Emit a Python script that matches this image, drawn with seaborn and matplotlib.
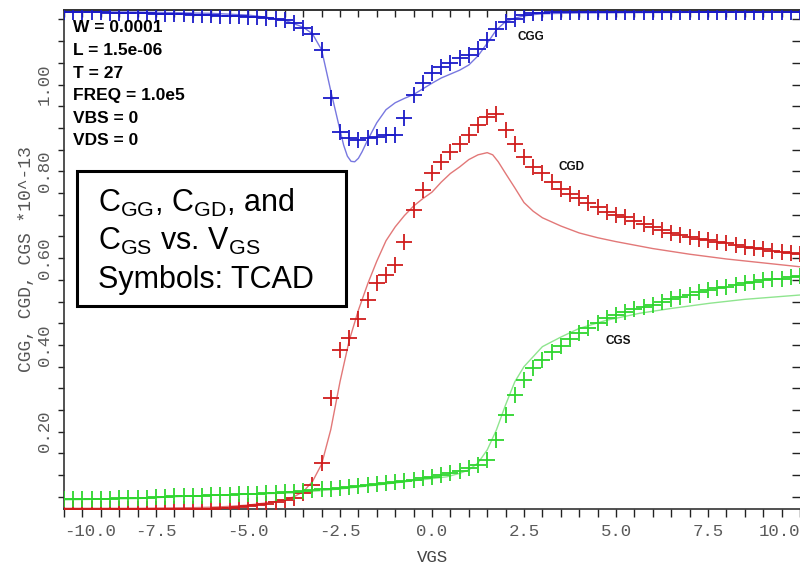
import matplotlib
matplotlib.use("Agg")
import matplotlib.pyplot as plt
import seaborn as sns
from matplotlib.patches import Rectangle
from matplotlib.ticker import MultipleLocator, FixedLocator

# ---------------- data ----------------
VGS_TCAD = [-10.0, -9.75, -9.5, -9.25, -9.0, -8.75, -8.5, -8.25, -8.0, -7.75,
            -7.5, -7.25, -7.0, -6.75, -6.5, -6.25, -6.0, -5.75, -5.5, -5.25,
            -5.0, -4.75, -4.5, -4.25, -4.0, -3.75, -3.5, -3.25, -3.0, -2.75,
            -2.5, -2.25, -2.0, -1.75, -1.5, -1.25, -1.0, -0.75, -0.5, -0.25,
            0.0, 0.25, 0.5, 0.75, 1.0, 1.25, 1.5, 1.75, 2.0, 2.25,
            2.5, 2.75, 3.0, 3.25, 3.5, 3.75, 4.0, 4.25, 4.5, 4.75,
            5.0, 5.25, 5.5, 5.75, 6.0, 6.25, 6.5, 6.75, 7.0, 7.25,
            7.5, 7.75, 8.0, 8.25, 8.5, 8.75, 9.0, 9.25, 9.5, 9.75, 10.0]

CGG_TCAD = [1.166, 1.166, 1.166, 1.166, 1.166, 1.165, 1.165, 1.165, 1.164, 1.164,
            1.163, 1.163, 1.162, 1.162, 1.161, 1.160, 1.160, 1.159, 1.158, 1.157,
            1.156, 1.155, 1.153, 1.150, 1.148, 1.141, 1.130, 1.116, 1.080, 0.968,
            0.891, 0.876, 0.872, 0.876, 0.880, 0.884, 0.884, 0.922, 0.976, 1.003,
            1.026, 1.041, 1.049, 1.060, 1.068, 1.082, 1.103, 1.129, 1.143, 1.152,
            1.160, 1.164, 1.165, 1.166, 1.166, 1.166, 1.166, 1.166, 1.166, 1.166,
            1.166, 1.166, 1.166, 1.166, 1.166, 1.166, 1.166, 1.166, 1.166, 1.166,
            1.166, 1.166, 1.166, 1.166, 1.166, 1.166, 1.166, 1.166, 1.166, 1.166, 1.166]

CGD_TCAD = [0.022, 0.022, 0.022, 0.022, 0.022, 0.022, 0.022, 0.022, 0.022, 0.022,
            0.022, 0.022, 0.022, 0.023, 0.023, 0.023, 0.023, 0.024, 0.025, 0.026,
            0.028, 0.030, 0.033, 0.038, 0.042, 0.047, 0.058, 0.077, 0.128, 0.277,
            0.388, 0.415, 0.459, 0.503, 0.542, 0.561, 0.584, 0.638, 0.711, 0.758,
            0.795, 0.822, 0.845, 0.864, 0.884, 0.907, 0.926, 0.932, 0.895, 0.864,
            0.832, 0.810, 0.795, 0.775, 0.760, 0.748, 0.738, 0.727, 0.717, 0.707,
            0.700, 0.694, 0.686, 0.678, 0.672, 0.665, 0.659, 0.653, 0.649, 0.645,
            0.642, 0.638, 0.634, 0.630, 0.626, 0.623, 0.620, 0.617, 0.615, 0.612, 0.610]

CGS_TCAD = [0.044, 0.044, 0.045, 0.045, 0.046, 0.046, 0.047, 0.047, 0.047, 0.048,
            0.049, 0.050, 0.051, 0.052, 0.053, 0.053, 0.054, 0.055, 0.055, 0.056,
            0.057, 0.057, 0.058, 0.059, 0.060, 0.061, 0.063, 0.065, 0.067, 0.069,
            0.070, 0.072, 0.075, 0.077, 0.080, 0.082, 0.084, 0.086, 0.089, 0.093,
            0.096, 0.100, 0.104, 0.110, 0.116, 0.124, 0.135, 0.181, 0.238, 0.285,
            0.319, 0.346, 0.365, 0.384, 0.398, 0.413, 0.428, 0.440, 0.451, 0.461,
            0.468, 0.475, 0.482, 0.487, 0.493, 0.499, 0.505, 0.511, 0.515, 0.521,
            0.527, 0.530, 0.534, 0.538, 0.542, 0.546, 0.550, 0.552, 0.553, 0.556, 0.558]

CGG_MODEL_X = [-10, -8, -6, -5, -4.5, -4, -3.5, -3.25, -3.0, -2.75,
               -2.5, -2.4, -2.3, -2.2, -2.1, -2.0, -1.9, -1.75, -1.5, -1.25,
               -1.0, -0.75, -0.5, -0.25, 0.0, 0.25, 0.5, 0.75, 1.0, 1.25,
               1.5, 1.75, 2.0, 2.25, 2.5, 2.75, 3.0, 4.0, 6.0, 10.0]
CGG_MODEL = [1.168, 1.167, 1.164, 1.160, 1.155, 1.148, 1.132, 1.117, 1.080, 0.985,
             0.895, 0.860, 0.835, 0.823, 0.822, 0.830, 0.845, 0.872, 0.912, 0.942,
             0.958, 0.968, 0.977, 0.990, 1.003, 1.015, 1.024, 1.033, 1.045, 1.066,
             1.095, 1.126, 1.145, 1.153, 1.158, 1.161, 1.163, 1.165, 1.166, 1.167]

CGD_MODEL_X = [-10, -8, -6.5, -6, -5.5, -5, -4.5, -4, -3.75, -3.5,
               -3.25, -3.0, -2.75, -2.5, -2.25, -2.0, -1.75, -1.5, -1.25, -1.0,
               -0.75, -0.5, -0.25, 0.0, 0.25, 0.5, 0.75, 1.0, 1.25, 1.5,
               1.65, 1.8, 2.0, 2.25, 2.5, 2.75, 3.0, 3.5, 4.0, 4.5,
               5.0, 5.5, 6.0, 7.0, 8.0, 9.0, 10.0]
CGD_MODEL = [0.0235, 0.0235, 0.025, 0.026, 0.028, 0.031, 0.036, 0.043, 0.050, 0.062,
             0.085, 0.125, 0.205, 0.315, 0.410, 0.480, 0.540, 0.593, 0.640, 0.672,
             0.698, 0.720, 0.737, 0.752, 0.775, 0.795, 0.810, 0.827, 0.838, 0.843,
             0.838, 0.822, 0.795, 0.762, 0.728, 0.708, 0.693, 0.674, 0.658, 0.647,
             0.638, 0.630, 0.622, 0.609, 0.598, 0.589, 0.580]

CGS_MODEL_X = [-10, -8, -6.5, -5, -3.75, -2.5, -1.5, -0.5, 0.4, 0.75,
               1.0, 1.25, 1.5, 1.75, 2.0, 2.25, 2.5, 2.75, 3.0, 3.5,
               4.0, 4.75, 5.65, 6.5, 7.55, 8.5, 10.0]
CGS_MODEL = [0.043, 0.046, 0.052, 0.056, 0.059, 0.068, 0.077, 0.087, 0.096, 0.104,
             0.112, 0.128, 0.158, 0.204, 0.262, 0.315, 0.350, 0.373, 0.396, 0.418,
             0.438, 0.457, 0.473, 0.484, 0.496, 0.505, 0.515]

X_TICKS = [-10.0, -7.5, -5.0, -2.5, 0.0, 2.5, 5.0, 7.5, 10.0]
X_TICK_LABELS = ["-10.0", "-7.5", "-5.0", "-2.5", "0.0", "2.5", "5.0", "7.5", "10.0"]
Y_TICKS = [0.20, 0.40, 0.60, 0.80, 1.00]
Y_TICK_LABELS = ["0.20", "0.40", "0.60", "0.80", "1.00"]

PARAMS = ["W = 0.0001", "L = 1.5e-06", "T = 27", "FREQ = 1.0e5", "VBS = 0", "VDS = 0"]

# ---------------- style ----------------
sns.set_theme(style="white")
plt.rcParams["font.family"] = ["Liberation Sans", "DejaVu Sans"]
plt.rcParams["axes.unicode_minus"] = False
plt.rcParams["mathtext.default"] = "regular"

W, H = 800, 567
fig = plt.figure(figsize=(8, 5.67), dpi=100)
fig.patch.set_facecolor("white")
ax = fig.add_axes([64 / W, 1 - 509 / H, 736 / W, 499 / H])
ax.set_facecolor("white")

series = [
    (CGG_MODEL_X, CGG_MODEL, CGG_TCAD, "#7878e0", "#1a1ac8"),
    (CGD_MODEL_X, CGD_MODEL, CGD_TCAD, "#e27878", "#d01c1c"),
    (CGS_MODEL_X, CGS_MODEL, CGS_TCAD, "#8fe58f", "#2ed62e"),
]
for mx, my, ty, lc, mc in series:
    sns.lineplot(x=mx, y=my, color=lc, lw=1.0, ax=ax, sort=False,
                 estimator=None, zorder=2)
    sns.scatterplot(x=VGS_TCAD, y=ty, marker="+", s=135, linewidth=1.3,
                    color=mc, ax=ax, zorder=3)

ax.set_xlim(-10, 10)
ax.set_ylim(0.0219, 1.1717)

mono = "Liberation Mono"
tick_col = "#5a5a5a"
ax.set_xticks(X_TICKS, X_TICK_LABELS)
ax.xaxis.set_minor_locator(MultipleLocator(0.5))
ax.set_yticks(Y_TICKS, Y_TICK_LABELS)
ax.yaxis.set_minor_locator(MultipleLocator(0.05))

ax.tick_params(axis="x", which="both", direction="out", length=6, width=1,
               color="#222222", bottom=True, top=False, pad=5,
               labelsize=12.5, labelcolor=tick_col)
ax.tick_params(axis="y", which="both", direction="out", length=4.5, width=1,
               color="#222222", left=True, right=False, pad=4,
               labelsize=12.5, labelcolor=tick_col, labelrotation=90)
for lab in ax.get_xticklabels():
    lab.set_fontfamily(mono)
for lab in ax.get_yticklabels():
    lab.set_fontfamily(mono)
    lab.set_va("center")
xl = ax.get_xticklabels()
xl[0].set_ha("left")
xl[-1].set_ha("right")

# top/right inward ticks
secx = ax.secondary_xaxis("top")
secx.xaxis.set_major_locator(FixedLocator(X_TICKS))
secx.xaxis.set_minor_locator(MultipleLocator(0.5))
secx.tick_params(axis="x", which="both", direction="in", length=5, width=1,
                 color="#222222", labeltop=False)
secx.spines["top"].set_color("#333333")
secy = ax.secondary_yaxis("right")
secy.yaxis.set_major_locator(FixedLocator(Y_TICKS))
secy.yaxis.set_minor_locator(MultipleLocator(0.05))
secy.tick_params(axis="y", which="both", direction="in", length=6, width=1,
                 color="#222222", labelright=False)
secy.spines["right"].set_visible(False)

for sp in ["left", "bottom", "top"]:
    ax.spines[sp].set_color("#333333")
    ax.spines[sp].set_linewidth(1.2)
ax.spines["right"].set_visible(False)

ax.set_xlabel("VGS", fontfamily=mono, fontsize=12.5, color="#444444")
ax.xaxis.set_label_coords(0.5, (509 - 550) / 499)
ax.set_ylabel("CGG, CGD, CGS *10^-13", fontfamily=mono, fontsize=13,
              color="#555555")
ax.yaxis.set_label_coords((35 - 64) / 736, 0.5)

# parameter block
for i, t in enumerate(PARAMS):
    fig.text(73 / W, 1 - (28 + i * 22.6) / H, t, fontsize=12.5,
             fontweight="bold", color="black", va="center", ha="left")

# curve labels
for txt, (px, py) in [("CGG", (531, 37.5)), ("CGD", (571.5, 166.5)),
                      ("CGS", (618, 341))]:
    fig.text(px / W, 1 - py / H, txt, fontsize=8.5, fontweight="bold",
             color="#111111", ha="center", va="center")

# boxed caption
fig.add_artist(Rectangle((77 / W, 1 - 306 / H), 269 / W, 135 / H,
                         transform=fig.transFigure, facecolor="white",
                         edgecolor="black", lw=2.2, zorder=5))
caption = [r"C$_{GG}$, C$_{GD}$, and", r"C$_{GS}$ vs. V$_{GS}$", "Symbols: TCAD"]
for i, t in enumerate(caption):
    fig.text(98 / W, 1 - (211.7 + i * 38.2) / H, t, fontsize=22,
             color="black", ha="left", va="baseline", zorder=6)

fig.savefig("out.png", dpi=100)
